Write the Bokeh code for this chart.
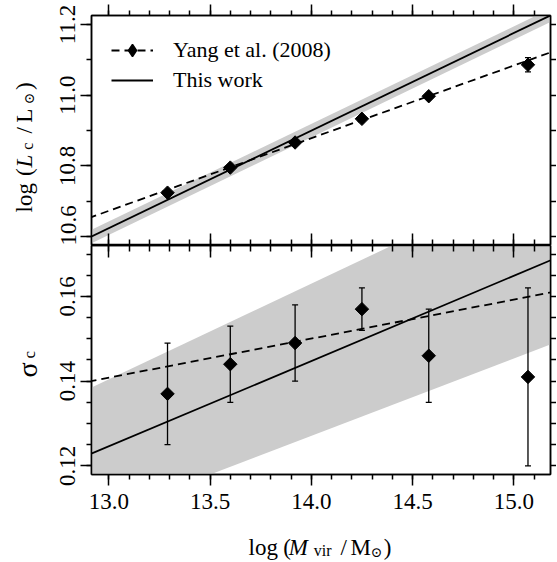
import numpy as np
from bokeh.plotting import figure
from bokeh.models import (Range1d, LinearAxis, FixedTicker, Label, Legend, LegendItem,
                          Whisker, TeeHead, ColumnDataSource, CustomJSTickFormatter,
                          PrintfTickFormatter)
from bokeh.layouts import column, row
from bokeh.embed import file_html
from bokeh.resources import INLINE

# ---------------- data ----------------
log_mvir = [13.29, 13.60, 13.92, 14.25, 14.58, 15.07]
yang_logLc = [10.724, 10.795, 10.866, 10.933, 10.997, 11.086]
yang_logLc_err = [0.005, 0.005, 0.005, 0.005, 0.005, 0.020]
yang_sigma = [0.137, 0.144, 0.149, 0.157, 0.146, 0.141]
yang_sigma_lo = [0.125, 0.135, 0.140, 0.152, 0.135, 0.120]
yang_sigma_hi = [0.149, 0.153, 0.158, 0.162, 0.157, 0.162]

fit_x = [12.9, 15.2]
yang_fit_logLc = [10.652, 11.125]
this_logLc = [10.596, 11.231]
this_logLc_lo = [10.577, 11.212]
this_logLc_hi = [10.615, 11.250]
yang_fit_sigma = [0.1399, 0.1611]
this_sigma = [0.1226, 0.1689]
this_sigma_lo = [0.1070, 0.1490]
this_sigma_hi = [0.1382, 0.1901]

x_ticks = [13.0, 13.5, 14.0, 14.5, 15.0]
top_y_ticks = [10.6, 10.8, 11.0, 11.2]
bot_y_ticks = [0.12, 0.14, 0.16]

legend_labels = ["Yang et al. (2008)", "This work"]

X_RANGE = (12.9146, 15.1812)
TOP_Y_RANGE = (10.5745, 11.2255)
BOT_Y_RANGE = (0.11797, 0.17202)

FONT = "Liberation Serif"
BAND = "#cccccc"
LW = 1.8
LAB_W = 42          # width of the strip that carries the y-axis titles
LEFT_B = 49         # room for the y tick labels
TOP_B = 15
TOP_H = 230
BOT_H = 229
BOT_B = 48
XLAB_H = 39

x_minor = [round(v, 2) for v in np.arange(12.9, 15.21, 0.1)]
top_minor = [round(v, 2) for v in np.arange(10.6, 11.21, 0.1)]
bot_minor = [round(v, 3) for v in np.arange(0.115, 0.1751, 0.005)]

blank = CustomJSTickFormatter(code="return ''")


def axis(ticks, minor, tin=0, tout=0, min_in=0, min_out=0, fmt=None,
         orient="horizontal", standoff=4):
    ax = LinearAxis(ticker=FixedTicker(ticks=ticks, minor_ticks=minor))
    ax.major_tick_in = tin
    ax.major_tick_out = tout
    ax.minor_tick_in = min_in
    ax.minor_tick_out = min_out
    for pre in ("axis_line", "major_tick_line", "minor_tick_line"):
        setattr(ax, pre + "_color", "black")
        setattr(ax, pre + "_width", LW - 0.3)
    ax.major_label_orientation = orient
    if fmt is not None:
        ax.formatter = PrintfTickFormatter(format=fmt)
        ax.major_label_text_font = FONT
        ax.major_label_text_font_size = "23px"
        ax.major_label_text_color = "black"
        ax.major_label_standoff = standoff
    else:
        ax.formatter = blank
        ax.major_label_text_font_size = "0px"
        ax.major_label_standoff = 0
    return ax


def base_fig(yr, fh, top_b, bot_b):
    p = figure(frame_width=459, frame_height=fh, min_border_left=LEFT_B,
               min_border_right=6, min_border_top=top_b, min_border_bottom=bot_b,
               x_range=Range1d(*X_RANGE), y_range=Range1d(*yr),
               x_axis_location=None, y_axis_location=None,
               output_backend="svg", toolbar_location=None)
    p.title = None
    p.grid.visible = False
    p.outline_line_color = "black"
    p.outline_line_width = LW - 0.3
    p.background_fill_color = "white"
    p.border_fill_color = "white"
    return p


def text_strip(w, h):
    s = figure(frame_width=w, frame_height=h, min_border=0,
               x_range=Range1d(0, w), y_range=Range1d(0, h),
               x_axis_location=None, y_axis_location=None,
               output_backend="svg", toolbar_location=None)
    s.title = None
    s.grid.visible = False
    s.outline_line_color = None
    s.background_fill_color = "white"
    s.border_fill_color = "white"
    return s


def piece(p, text, x, y, size, font=FONT, style="normal", angle=0.0):
    p.add_layout(Label(x=x, y=y, text=text,
                       text_font=font, text_font_size=f"{size}px", text_font_style=style,
                       text_color="black", text_align="left", text_baseline="alphabetic",
                       angle=angle))


def whisker(src):
    return Whisker(source=src, base="x", lower="lo", upper="hi", dimension="height",
                   line_color="black", line_width=1.3, level="overlay",
                   lower_head=TeeHead(size=6, line_color="black", line_width=1.3),
                   upper_head=TeeHead(size=6, line_color="black", line_width=1.3))


# ---------------- top panel ----------------
top = base_fig(TOP_Y_RANGE, TOP_H, TOP_B, 0)
top.varea(x=fit_x, y1=this_logLc_lo, y2=this_logLc_hi, fill_color=BAND)
r_this = top.line(fit_x, this_logLc, line_color="black", line_width=LW)
r_yline = top.line(fit_x, yang_fit_logLc, line_color="black", line_width=LW, line_dash="8 5")
src_top = ColumnDataSource(dict(x=log_mvir, y=yang_logLc,
                                lo=[a - b for a, b in zip(yang_logLc, yang_logLc_err)],
                                hi=[a + b for a, b in zip(yang_logLc, yang_logLc_err)]))
top.add_layout(whisker(src_top))
top.scatter("x", "y", source=src_top, marker="square", size=9.5, angle=np.pi / 4,
            fill_color="black", line_color="black")
# marker used only to draw the legend symbol
r_legmark = top.scatter(x=[np.nan], y=[np.nan], marker="diamond", size=12,
                        fill_color="black", line_color="black", line_width=1.5)

top.add_layout(axis(top_y_ticks, top_minor, tout=11, min_out=5, fmt="%.1f",
                    orient="vertical", standoff=5), "left")
top.add_layout(axis(x_ticks, x_minor, tout=11, min_out=5), "above")
top.add_layout(axis(x_ticks, x_minor, tin=12, min_in=6), "below")
top.add_layout(axis(top_minor, [], tout=6), "right")

legend = Legend(items=[LegendItem(label=legend_labels[0], renderers=[r_yline, r_legmark]),
                       LegendItem(label=legend_labels[1], renderers=[r_this])],
                location="top_left", margin=20, padding=0, spacing=0,
                glyph_width=42, glyph_height=30, label_height=30, label_standoff=20,
                label_text_font=FONT, label_text_font_size="22px", label_text_color="black",
                border_line_alpha=0, background_fill_alpha=0)
top.add_layout(legend)

# ---------------- bottom panel ----------------
bot = base_fig(BOT_Y_RANGE, BOT_H, 0, BOT_B)
bot.varea(x=fit_x, y1=this_sigma_lo, y2=this_sigma_hi, fill_color=BAND)
bot.line(fit_x, this_sigma, line_color="black", line_width=LW)
bot.line(fit_x, yang_fit_sigma, line_color="black", line_width=LW, line_dash="8 5")
src_bot = ColumnDataSource(dict(x=log_mvir, y=yang_sigma, lo=yang_sigma_lo, hi=yang_sigma_hi))
bot.add_layout(whisker(src_bot))
bot.scatter("x", "y", source=src_bot, marker="square", size=9.5, angle=np.pi / 4,
            fill_color="black", line_color="black")

bot.add_layout(axis(bot_y_ticks, bot_minor, tout=11, min_out=5, fmt="%.2f",
                    orient="vertical", standoff=5), "left")
bot.add_layout(axis(x_ticks, x_minor, tout=11, min_out=5, fmt="%.1f", standoff=8), "below")
bot.add_layout(axis(x_ticks, x_minor, tin=12, min_in=6), "above")
bot.add_layout(axis(bot_minor, [], tout=6), "right")

# ---------------- axis titles (text strips) ----------------
ang = np.pi / 2
ylab_top = text_strip(LAB_W, TOP_B + TOP_H)
piece(ylab_top, "log", 24, 48, 23, angle=ang)
piece(ylab_top, "(", 24, 84.4, 23, angle=ang)
piece(ylab_top, "L", 24, 93.1, 23, style="italic", angle=ang)
piece(ylab_top, "c", 27, 110.7, 16, angle=ang)
piece(ylab_top, "/", 24, 127.1, 23, angle=ang)
piece(ylab_top, "L", 24, 137.8, 23, angle=ang)
piece(ylab_top, "\u2299", 28, 156.1, 14, font="DejaVu Serif", angle=ang)
piece(ylab_top, ")", 24, 170.4, 23, angle=ang)

ylab_bot = text_strip(LAB_W, BOT_H + BOT_B)
piece(ylab_bot, "\u03c3", 26.5, 145, 28, angle=ang)
piece(ylab_bot, "c", 28.5, 164, 17, angle=ang)

xlab = text_strip(LAB_W + LEFT_B + 459 + 6, XLAB_H)
piece(xlab, "log", 248, 14, 23)
piece(xlab, "(", 282.7, 14, 23)
piece(xlab, "M", 288.3, 14, 23, style="italic")
piece(xlab, "vir", 313.3, 11, 16)
piece(xlab, "/", 340, 14, 23)
piece(xlab, "M", 350, 14, 23)
piece(xlab, "\u2299", 370, 10, 14, font="DejaVu Serif")
piece(xlab, ")", 383.3, 14, 23)

layout = column(row(ylab_top, top, spacing=0),
                row(ylab_bot, bot, spacing=0),
                xlab, spacing=0)
open("out.html", "w").write(file_html(layout, INLINE))
